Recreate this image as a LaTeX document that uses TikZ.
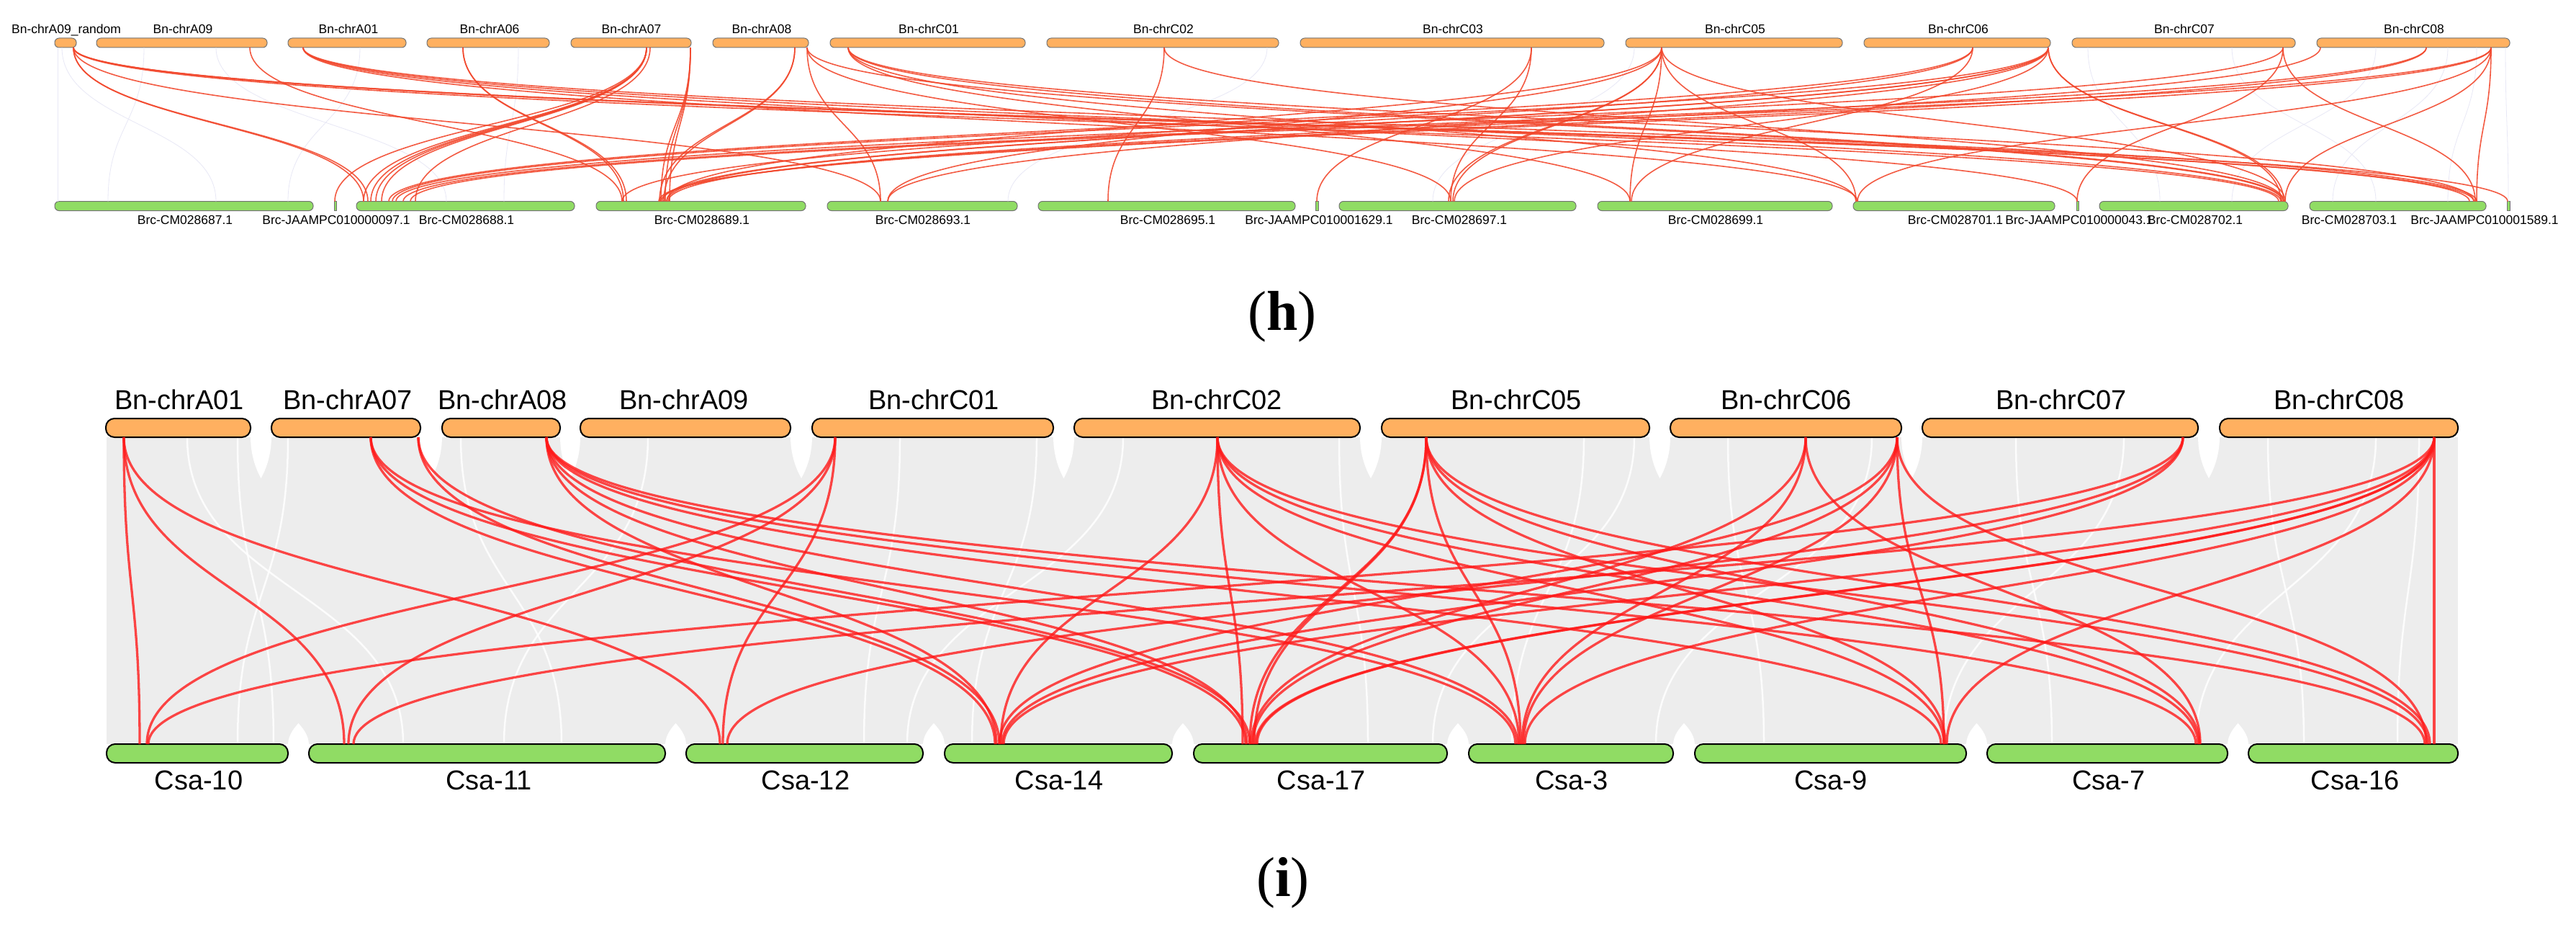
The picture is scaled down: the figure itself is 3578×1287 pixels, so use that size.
\documentclass[tikz,border=0pt]{standalone}
\usepackage{fontspec}
\setmainfont{Liberation Sans}
\newfontfamily\capfont{Liberation Serif}
\usetikzlibrary{calc,backgrounds}
\definecolor{barorange}{HTML}{FFB060}
\definecolor{bargreen}{HTML}{90DC64}
\definecolor{linkred}{HTML}{FF1A1A}
\definecolor{toplink}{HTML}{F2492E}
\definecolor{ribbon}{HTML}{EDEDED}
\definecolor{faint}{HTML}{E8E8F6}
\tikzset{
  tbar/.style={draw=black!55, line width=1pt, rounded corners=6pt, minimum height=13pt, inner sep=0pt, outer sep=0pt},
  tstub/.style={draw=black!55, line width=1pt, minimum height=13pt, inner sep=0pt, outer sep=0pt},
  bbar/.style={draw=black, line width=2pt, rounded corners=12pt, minimum height=26pt, inner sep=0pt, outer sep=0pt},
  tlab/.style={anchor=base, inner sep=0pt, font=\fontsize{17.5pt}{20pt}\selectfont},
  blab/.style={anchor=base, inner sep=0pt, font=\fontsize{38pt}{44pt}\selectfont},
  caplab/.style={anchor=base, inner sep=0pt, font=\capfont\fontsize{78pt}{90pt}\selectfont},
  tlinkstyle/.style={draw=toplink, line width=1.6pt, opacity=0.9},
  blinkstyle/.style={draw=linkred, line width=3.3pt, opacity=0.8},
  streak/.style={draw=white, line width=2.5pt, opacity=0.85},
  faintlink/.style={draw=faint, line width=0.8pt},
}
\newcommand\tlk[4]{\draw[tlinkstyle] (#1.south -| #2,0) .. controls +(0,106) and +(0,-106) .. (#3.north -| #4,0);}
\newcommand\flk[4]{\draw[faintlink] (#1.south -| #2,0) .. controls +(0,106) and +(0,-106) .. (#3.north -| #4,0);}
\newcommand\blk[4]{\draw[blinkstyle] (#1.south -| #2,0) .. controls +(0,213) and +(0,-213) .. (#3.north -| #4,0);}
\newcommand\wstk[4]{\draw[streak] (#1.south -| #2,0) .. controls +(0,213) and +(0,-213) .. (#3.north -| #4,0);}
\newcommand\tnotch[2]{\fill[white] (#1,606) .. controls (#1,635) and ({(#1+#2)/2-5},655) .. ({(#1+#2)/2},664) .. controls ({(#1+#2)/2+5},655) and (#2,635) .. (#2,606) -- cycle;}
\newcommand\bnotch[2]{\fill[white] (#1,1034) .. controls (#1,1020) and ({(#1+#2)/2-5},1010) .. ({(#1+#2)/2},1004) .. controls ({(#1+#2)/2+5},1010) and (#2,1020) .. (#2,1034) -- cycle;}
\begin{document}
\begin{tikzpicture}[x=1pt,y=-1pt]
\useasboundingbox (0,0) rectangle (3578,1287);

% ================= panel (h) =================
\node[tstub, fill=barorange, minimum width=30pt, rounded corners=6pt] (TA09r) at (91,59.5) {};
\node[tbar, fill=barorange, minimum width=237pt] (TA09) at (252.5,59.5) {};
\node[tbar, fill=barorange, minimum width=164pt] (TA01) at (482,59.5) {};
\node[tbar, fill=barorange, minimum width=170pt] (TA06) at (678,59.5) {};
\node[tbar, fill=barorange, minimum width=167pt] (TA07) at (876.5,59.5) {};
\node[tbar, fill=barorange, minimum width=133pt] (TA08) at (1056.5,59.5) {};
\node[tbar, fill=barorange, minimum width=271pt] (TC01) at (1288.5,59.5) {};
\node[tbar, fill=barorange, minimum width=322pt] (TC02) at (1615,59.5) {};
\node[tbar, fill=barorange, minimum width=422pt] (TC03) at (2017,59.5) {};
\node[tbar, fill=barorange, minimum width=301pt] (TC05) at (2408.5,59.5) {};
\node[tbar, fill=barorange, minimum width=259pt] (TC06) at (2718.5,59.5) {};
\node[tbar, fill=barorange, minimum width=310pt] (TC07) at (3033,59.5) {};
\node[tbar, fill=barorange, minimum width=268pt] (TC08) at (3352,59.5) {};

\node[tbar, fill=bargreen, minimum width=359pt] (G687) at (255.5,286) {};
\node[tstub, fill=bargreen, minimum width=3pt] (G097) at (465.5,286) {};
\node[tbar, fill=bargreen, minimum width=303pt] (G688) at (646.5,286) {};
\node[tbar, fill=bargreen, minimum width=291pt] (G689) at (973.5,286) {};
\node[tbar, fill=bargreen, minimum width=264pt] (G693) at (1281,286) {};
\node[tbar, fill=bargreen, minimum width=357pt] (G695) at (1620.5,286) {};
\node[tstub, fill=bargreen, minimum width=4pt] (G1629) at (1829,286) {};
\node[tbar, fill=bargreen, minimum width=329pt] (G697) at (2024.5,286) {};
\node[tbar, fill=bargreen, minimum width=326pt] (G699) at (2382,286) {};
\node[tbar, fill=bargreen, minimum width=280pt] (G701) at (2714,286) {};
\node[tstub, fill=bargreen, minimum width=3pt] (G043) at (2885.5,286) {};
\node[tbar, fill=bargreen, minimum width=262pt] (G702) at (3047,286) {};
\node[tbar, fill=bargreen, minimum width=245pt] (G703) at (3330.5,286) {};
\node[tstub, fill=bargreen, minimum width=4pt] (G1589) at (3484,286) {};

\node[tlab] (lTA09r) at (92,47) {Bn-chrA09\_random};
\node[tlab] (lTA09) at (254,47) {Bn-chrA09};
\node[tlab] (lTA01) at (484,47) {Bn-chrA01};
\node[tlab] (lTA06) at (680,47) {Bn-chrA06};
\node[tlab] (lTA07) at (877,47) {Bn-chrA07};
\node[tlab] (lTA08) at (1058,47) {Bn-chrA08};
\node[tlab] (lTC01) at (1290,47) {Bn-chrC01};
\node[tlab] (lTC02) at (1616,47) {Bn-chrC02};
\node[tlab] (lTC03) at (2018,47) {Bn-chrC03};
\node[tlab] (lTC05) at (2410,47) {Bn-chrC05};
\node[tlab] (lTC06) at (2720,47) {Bn-chrC06};
\node[tlab] (lTC07) at (3034,47) {Bn-chrC07};
\node[tlab] (lTC08) at (3353,47) {Bn-chrC08};

\node[tlab] (lG687) at (257,311) {Brc-CM028687.1};
\node[tlab] (lG097) at (467,311) {Brc-JAAMPC010000097.1};
\node[tlab] (lG688) at (648,311) {Brc-CM028688.1};
\node[tlab] (lG689) at (975,311) {Brc-CM028689.1};
\node[tlab] (lG693) at (1282,311) {Brc-CM028693.1};
\node[tlab] (lG695) at (1622,311) {Brc-CM028695.1};
\node[tlab] (lG1629) at (1832,311) {Brc-JAAMPC010001629.1};
\node[tlab] (lG697) at (2027,311) {Brc-CM028697.1};
\node[tlab] (lG699) at (2383,311) {Brc-CM028699.1};
\node[tlab] (lG701) at (2716,311) {Brc-CM028701.1};
\node[tlab] (lG043) at (2888,311) {Brc-JAAMPC010000043.1};
\node[tlab] (lG702) at (3049,311) {Brc-CM028702.1};
\node[tlab] (lG703) at (3263,311) {Brc-CM028703.1};
\node[tlab] (lG1589) at (3451,311) {Brc-JAAMPC010001589.1};

% faint background links (h)
\flk{TA09r}{80}{G687}{80}
\flk{TA09r}{86}{G687}{300}
\flk{TA09}{200}{G687}{150}
\flk{TA09}{300}{G688}{620}
\flk{TA01}{500}{G687}{400}
\flk{TA06}{720}{G688}{700}
\flk{TC02}{1760}{G693}{1400}
\flk{TC05}{2270}{G697}{1990}
\flk{TC07}{2900}{G702}{3000}
\flk{TC07}{3100}{G703}{3300}
\flk{TC08}{3300}{G702}{3100}
\flk{TC08}{3400}{G703}{3240}
\flk{TC08}{3480}{G1589}{3484}
\flk{TC08}{3440}{G703}{3400}

% links (h)
\tlk{TA09r}{102}{G688}{505}
\tlk{TA09r}{102}{G688}{511}
\tlk{TA09r}{102}{G693}{1223}
\tlk{TA09r}{102}{G702}{3165}
\tlk{TA09r}{102}{G703}{3430}
\tlk{TA09r}{102}{G703}{3436}
\tlk{TA09r}{102}{G1589}{3483}
\tlk{TA09}{347}{G689}{864}
\tlk{TA01}{421}{G043}{2885}
\tlk{TA01}{421}{G702}{3168}
\tlk{TA01}{421}{G703}{3440}
\tlk{TA01}{421}{G701}{2580}
\tlk{TA06}{643}{G689}{866}
\tlk{TA06}{643}{G689}{870}
\tlk{TA07}{898}{G688}{505}
\tlk{TA07}{898}{G688}{515}
\tlk{TA07}{898}{G688}{522}
\tlk{TA07}{898}{G688}{530}
\tlk{TA07}{898}{G097}{465}
\tlk{TA07}{903}{G688}{577}
\tlk{TA07}{959}{G689}{918}
\tlk{TA07}{959}{G689}{924}
\tlk{TA07}{959}{G689}{930}
\tlk{TA08}{1104}{G689}{916}
\tlk{TA08}{1104}{G689}{922}
\tlk{TA08}{1121}{G693}{1223}
\tlk{TA08}{1121}{G697}{2015}
\tlk{TA08}{1121}{G702}{3170}
\tlk{TC01}{1178}{G699}{2264}
\tlk{TC01}{1178}{G701}{2578}
\tlk{TC01}{1178}{G702}{3172}
\tlk{TC01}{1178}{G703}{3436}
\tlk{TC02}{1617}{G695}{1539}
\tlk{TC02}{1617}{G702}{3172}
\tlk{TC03}{2127}{G1629}{1829}
\tlk{TC03}{2127}{G697}{2015}
\tlk{TC05}{2308}{G697}{2012}
\tlk{TC05}{2308}{G697}{2018}
\tlk{TC05}{2308}{G689}{926}
\tlk{TC05}{2308}{G699}{2264}
\tlk{TC05}{2308}{G693}{1233}
\tlk{TC05}{2308}{G701}{2578}
\tlk{TC05}{2308}{G702}{3174}
\tlk{TC06}{2740}{G689}{864}
\tlk{TC06}{2740}{G688}{540}
\tlk{TC06}{2740}{G699}{2266}
\tlk{TC06}{2845}{G688}{545}
\tlk{TC06}{2845}{G689}{926}
\tlk{TC06}{2845}{G689}{920}
\tlk{TC06}{2845}{G693}{1233}
\tlk{TC06}{2845}{G697}{2020}
\tlk{TC06}{2845}{G702}{3172}
\tlk{TC06}{2845}{G702}{3168}
\tlk{TC07}{3171}{G043}{2885}
\tlk{TC07}{3171}{G703}{3438}
\tlk{TC07}{3171}{G688}{550}
\tlk{TC08}{3223}{G689}{928}
\tlk{TC08}{3370}{G688}{560}
\tlk{TC08}{3370}{G689}{918}
\tlk{TC08}{3460}{G689}{915}
\tlk{TC08}{3460}{G688}{570}
\tlk{TC08}{3460}{G702}{3174}
\tlk{TC08}{3460}{G701}{2580}
\tlk{TC08}{3460}{G703}{3440}

\node[caplab] (caph) at (1781,458) {(\textbf{h})};

% ================= panel (i) =================
\node[bbar, fill=barorange, minimum width=201pt] (A01) at (247.5,594) {};
\node[bbar, fill=barorange, minimum width=207pt] (A07) at (480.5,594) {};
\node[bbar, fill=barorange, minimum width=164pt] (A08) at (696,594) {};
\node[bbar, fill=barorange, minimum width=292pt] (A09) at (952,594) {};
\node[bbar, fill=barorange, minimum width=335pt] (C01) at (1295.5,594) {};
\node[bbar, fill=barorange, minimum width=397pt] (C02) at (1690.5,594) {};
\node[bbar, fill=barorange, minimum width=372pt] (C05) at (2105,594) {};
\node[bbar, fill=barorange, minimum width=321pt] (C06) at (2480.5,594) {};
\node[bbar, fill=barorange, minimum width=383pt] (C07) at (2861.5,594) {};
\node[bbar, fill=barorange, minimum width=331pt] (C08) at (3248.5,594) {};

\node[bbar, fill=bargreen, minimum width=252pt] (S10) at (274,1046) {};
\node[bbar, fill=bargreen, minimum width=495pt] (S11) at (676.5,1046) {};
\node[bbar, fill=bargreen, minimum width=329pt] (S12) at (1117.5,1046) {};
\node[bbar, fill=bargreen, minimum width=316pt] (S14) at (1470,1046) {};
\node[bbar, fill=bargreen, minimum width=352pt] (S17) at (1834,1046) {};
\node[bbar, fill=bargreen, minimum width=284pt] (S3) at (2182,1046) {};
\node[bbar, fill=bargreen, minimum width=377pt] (S9) at (2542.5,1046) {};
\node[bbar, fill=bargreen, minimum width=334pt] (S7) at (2927,1046) {};
\node[bbar, fill=bargreen, minimum width=291pt] (S16) at (3268.5,1046) {};

\begin{pgfonlayer}{background}
\fill[white] (0,0) rectangle (3578,1287);
\fill[ribbon] (148,607) rectangle (3414,1033);
\tnotch{348}{377}\tnotch{584}{614}\tnotch{778}{806}\tnotch{1098}{1128}\tnotch{1463}{1492}
\tnotch{1889}{1919}\tnotch{2291}{2320}\tnotch{2641}{2670}\tnotch{3053}{3083}
\bnotch{400}{429}\bnotch{924}{953}\bnotch{1282}{1312}\bnotch{1628}{1658}
\bnotch{2010}{2040}\bnotch{2324}{2354}\bnotch{2731}{2760}\bnotch{3094}{3123}
\wstk{A01}{330}{S10}{380}
\wstk{A01}{260}{S11}{560}
\wstk{A07}{400}{S10}{330}
\wstk{A08}{640}{S11}{780}
\wstk{A09}{900}{S11}{700}
\wstk{C01}{1250}{S12}{1200}
\wstk{C01}{1440}{S14}{1350}
\wstk{C02}{1560}{S12}{1260}
\wstk{C02}{1860}{S17}{1900}
\wstk{C05}{2200}{S3}{2100}
\wstk{C05}{2270}{S17}{1990}
\wstk{C06}{2400}{S9}{2450}
\wstk{C06}{2600}{S3}{2300}
\wstk{C07}{2800}{S7}{2850}
\wstk{C07}{2950}{S9}{2700}
\wstk{C08}{3150}{S16}{3200}
\wstk{C08}{3300}{S7}{3050}
\wstk{C08}{3360}{S16}{3330}
\end{pgfonlayer}

\node[blab] (lA01) at (249,568) {Bn-chrA01};
\node[blab] (lA07) at (483,568) {Bn-chrA07};
\node[blab] (lA08) at (698,568) {Bn-chrA08};
\node[blab] (lA09) at (950,568) {Bn-chrA09};
\node[blab] (lC01) at (1297,568) {Bn-chrC01};
\node[blab] (lC02) at (1690,568) {Bn-chrC02};
\node[blab] (lC05) at (2106,568) {Bn-chrC05};
\node[blab] (lC06) at (2481,568) {Bn-chrC06};
\node[blab] (lC07) at (2863,568) {Bn-chrC07};
\node[blab] (lC08) at (3249,568) {Bn-chrC08};

\node[blab] (lS10) at (276,1096) {Csa-10};
\node[blab] (lS11) at (679,1096) {Csa-11};
\node[blab] (lS12) at (1119,1096) {Csa-12};
\node[blab] (lS14) at (1471,1096) {Csa-14};
\node[blab] (lS17) at (1835,1096) {Csa-17};
\node[blab] (lS3) at (2183,1096) {Csa-3};
\node[blab] (lS9) at (2543,1096) {Csa-9};
\node[blab] (lS7) at (2929,1096) {Csa-7};
\node[blab] (lS16) at (3271,1096) {Csa-16};

% links (i)
\blk{A01}{172}{S10}{194}
\blk{A01}{172}{S11}{478}
\blk{A01}{172}{S12}{1000}
\blk{A07}{515}{S17}{1730}
\blk{A07}{515}{S3}{2105}
\blk{A07}{515}{S14}{1382}
\blk{A07}{581}{S14}{1388}
\blk{A07}{581}{S17}{1736}
\blk{A08}{759}{S14}{1384}
\blk{A08}{759}{S17}{1732}
\blk{A08}{759}{S3}{2108}
\blk{A08}{759}{S9}{2696}
\blk{A08}{759}{S7}{3050}
\blk{A08}{759}{S16}{3368}
\blk{C01}{1160}{S10}{204}
\blk{C01}{1160}{S11}{484}
\blk{C01}{1160}{S12}{1004}
\blk{C02}{1691}{S14}{1390}
\blk{C02}{1691}{S17}{1726}
\blk{C02}{1691}{S3}{2110}
\blk{C02}{1691}{S9}{2700}
\blk{C02}{1691}{S7}{3053}
\blk{C02}{1691}{S16}{3372}
\blk{C05}{1981}{S17}{1736}
\blk{C05}{1981}{S17}{1742}
\blk{C05}{1981}{S3}{2112}
\blk{C05}{1981}{S9}{2702}
\blk{C05}{1981}{S7}{3055}
\blk{C05}{1981}{S16}{3375}
\blk{C06}{2508}{S17}{1738}
\blk{C06}{2508}{S3}{2114}
\blk{C06}{2508}{S7}{3056}
\blk{C06}{2635}{S14}{1388}
\blk{C06}{2635}{S17}{1740}
\blk{C06}{2635}{S3}{2116}
\blk{C06}{2635}{S9}{2700}
\blk{C06}{2635}{S16}{3370}
\blk{C07}{3032}{S10}{206}
\blk{C07}{3032}{S12}{1010}
\blk{C07}{3032}{S14}{1392}
\blk{C08}{3381}{S11}{491}
\blk{C08}{3381}{S14}{1394}
\blk{C08}{3381}{S17}{1744}
\blk{C08}{3381}{S17}{1746}
\blk{C08}{3381}{S3}{2118}
\blk{C08}{3381}{S9}{2704}
\blk{C08}{3381}{S16}{3381}

\node[caplab] (capi) at (1782,1244) {(\textbf{i})};
\end{tikzpicture}
\end{document}
